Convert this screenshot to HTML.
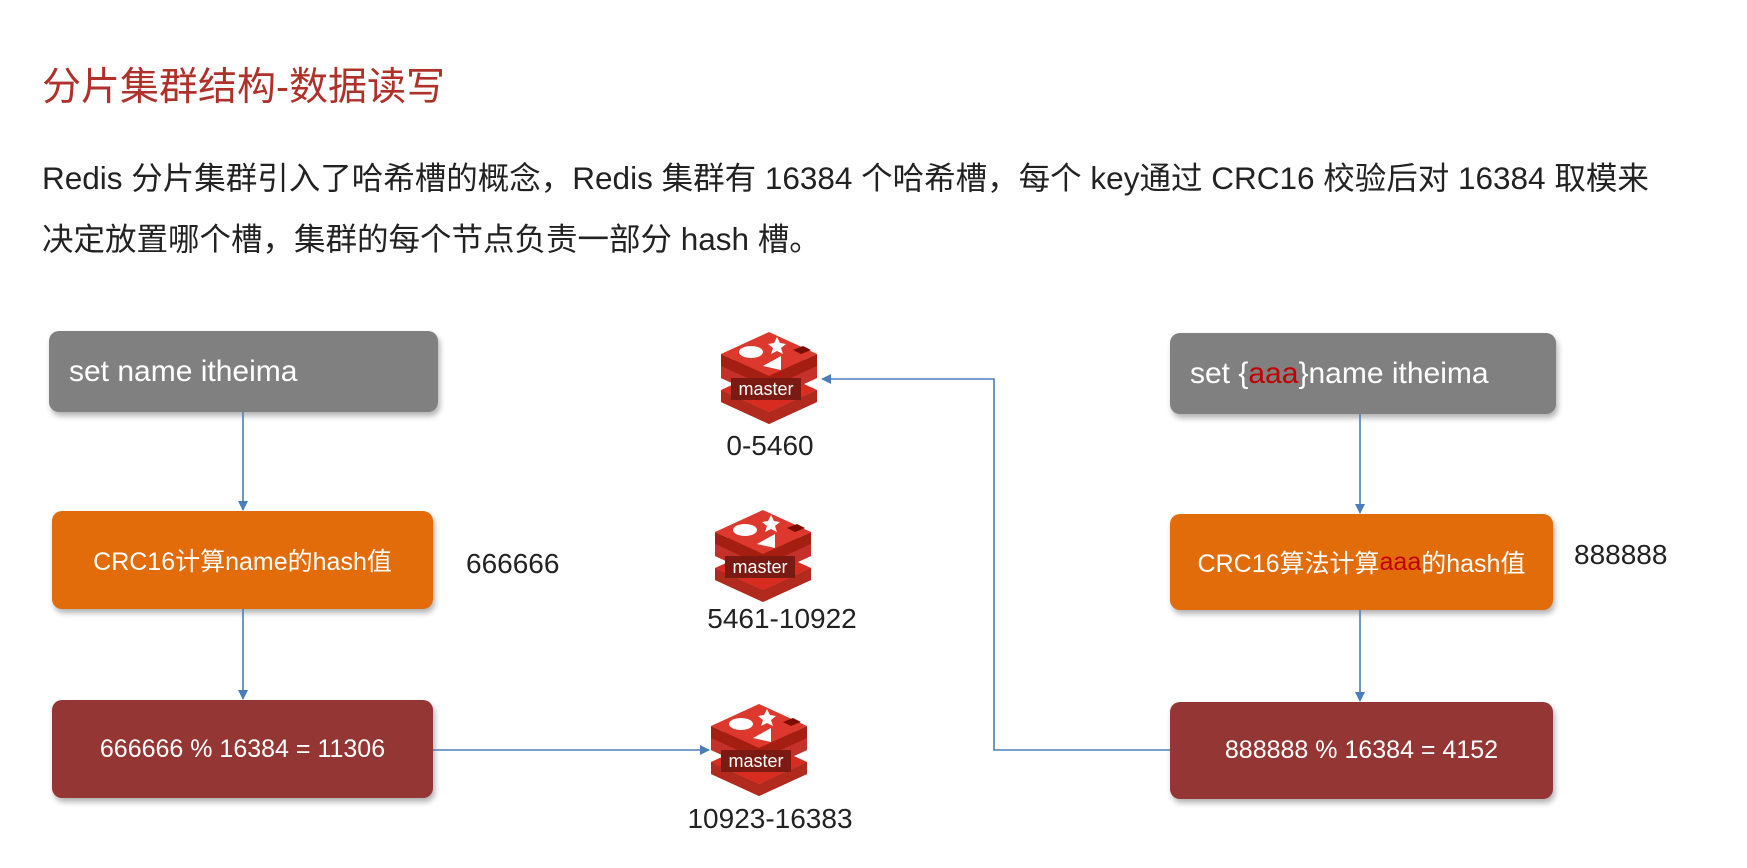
<!DOCTYPE html>
<html><head><meta charset="utf-8"><style>
body{margin:0;width:1747px;height:868px;background:#fff;position:relative;overflow:hidden;font-family:"Liberation Sans","Noto Sans CJK SC",sans-serif;}
.t{position:absolute;white-space:nowrap}
.box{position:absolute;border-radius:10px;color:#fff;display:flex;align-items:center;box-shadow:2px 4px 6px rgba(0,0,0,0.3);white-space:nowrap}
.g{background:#808080;font-size:30px;padding-left:20px;box-sizing:border-box}
.o{background:#E36C0A;font-size:25px;justify-content:center}
.r{background:#943634;font-size:25px;justify-content:center}
.red{color:#C00000}
.lbl{position:absolute;font-size:28px;color:#222;transform:translateX(-50%);white-space:nowrap}
</style></head><body>
<div class="t" style="left:42px;top:56px;font-size:39px;color:#B0302A">分片集群结构-数据读写</div>
<div class="t" style="left:42px;top:153px;font-size:31.5px;color:#222">Redis 分片集群引入了哈希槽的概念，Redis 集群有 16384 个哈希槽，每个 key通过 CRC16 校验后对 16384 取模来</div>
<div class="t" style="left:42px;top:214px;font-size:31.5px;color:#222">决定放置哪个槽，集群的每个节点负责一部分 hash 槽。</div>

<div class="box g" style="left:49px;top:331px;width:389px;height:81px">set name itheima</div>
<div class="box o" style="left:52px;top:511px;width:381px;height:98px">CRC16计算name的hash值</div>
<div class="box r" style="left:52px;top:700px;width:381px;height:98px">666666 % 16384 = 11306</div>
<div class="t" style="left:466px;top:548px;font-size:28px;color:#222">666666</div>

<div class="box g" style="left:1170px;top:333px;width:386px;height:81px">set {<span class="red">aaa</span>}name itheima</div>
<div class="box o" style="left:1170px;top:514px;width:383px;height:96px">CRC16算法计算<span class="red">aaa</span>的hash值</div>
<div class="box r" style="left:1170px;top:702px;width:383px;height:97px">888888 % 16384 = 4152</div>
<div class="t" style="left:1574px;top:539px;font-size:28px;color:#222">888888</div>

<svg width="1747" height="868" style="position:absolute;left:0;top:0">
<defs>
<marker id="a" markerWidth="10" markerHeight="10" refX="9" refY="5" orient="auto" markerUnits="userSpaceOnUse"><path d="M0,0 L10,5 L0,10 z" fill="#4A7EBB"/></marker>
<g id="redis">
<path d="M-48,18 L0,40 L48,18 L48,6 L0,28 L-48,6 z" fill="#A41E11"/>
<path d="M-48,6 L0,28 L48,6 L0,-16 z" fill="#D82C20"/>
<path d="M-48,-6 L0,16 L48,-6 L48,-18 L0,4 L-48,-18 z" fill="#A41E11"/>
<path d="M-48,-18 L0,4 L48,-18 L0,-40 z" fill="#D82C20"/>
<path d="M-48,-18 L0,4 L48,-18 L48,-6 L0,16 L-48,-6 z" fill="#C6302B"/>
<path d="M-48,6 L0,28 L48,6 L48,18 L0,40 L-48,18 z" fill="#B22A1E"/>
<path d="M-48,-30 L0,-8 L48,-30 L0,-52 z" fill="#DC382D"/>
<path d="M-48,-30 L0,-8 L48,-30 L48,-18 L0,4 L-48,-18 z" fill="#A41E11"/>
<ellipse cx="-18" cy="-32" rx="12" ry="6" fill="#fff"/>
<path d="M8,-47 l3,6 6,1 -5,4 2,6 -6,-3 -6,3 2,-6 -5,-4 6,-1z" fill="#fff"/>
<path d="M-6,-18 L12,-28 L12,-14z" fill="#fff"/>
<path d="M24,-34 l10,-4 8,4 -10,4z" fill="#7A0C00"/>
<rect x="-38" y="-6" width="70" height="22" fill="#7A1A12"/>
<text x="-3" y="11" fill="#fff" font-size="18" text-anchor="middle" font-family="Liberation Sans,sans-serif">master</text>
</g>
</defs>
<use href="#redis" x="769" y="384"/>
<use href="#redis" x="763" y="562"/>
<use href="#redis" x="759" y="756"/>
<g stroke="#4A7EBB" stroke-width="1.6" fill="none">
<line x1="243" y1="412" x2="243" y2="510" marker-end="url(#a)"/>
<line x1="243" y1="609" x2="243" y2="699" marker-end="url(#a)"/>
<line x1="433" y1="750" x2="709" y2="750" marker-end="url(#a)"/>
<line x1="1360" y1="414" x2="1360" y2="513" marker-end="url(#a)"/>
<line x1="1360" y1="610" x2="1360" y2="701" marker-end="url(#a)"/>
<polyline points="1170,750 994,750 994,379 822,379" marker-end="url(#a)"/>
</g>
</svg>
<div class="lbl" style="left:770px;top:430px">0-5460</div>
<div class="lbl" style="left:782px;top:603px">5461-10922</div>
<div class="lbl" style="left:770px;top:803px">10923-16383</div>
</body></html>
